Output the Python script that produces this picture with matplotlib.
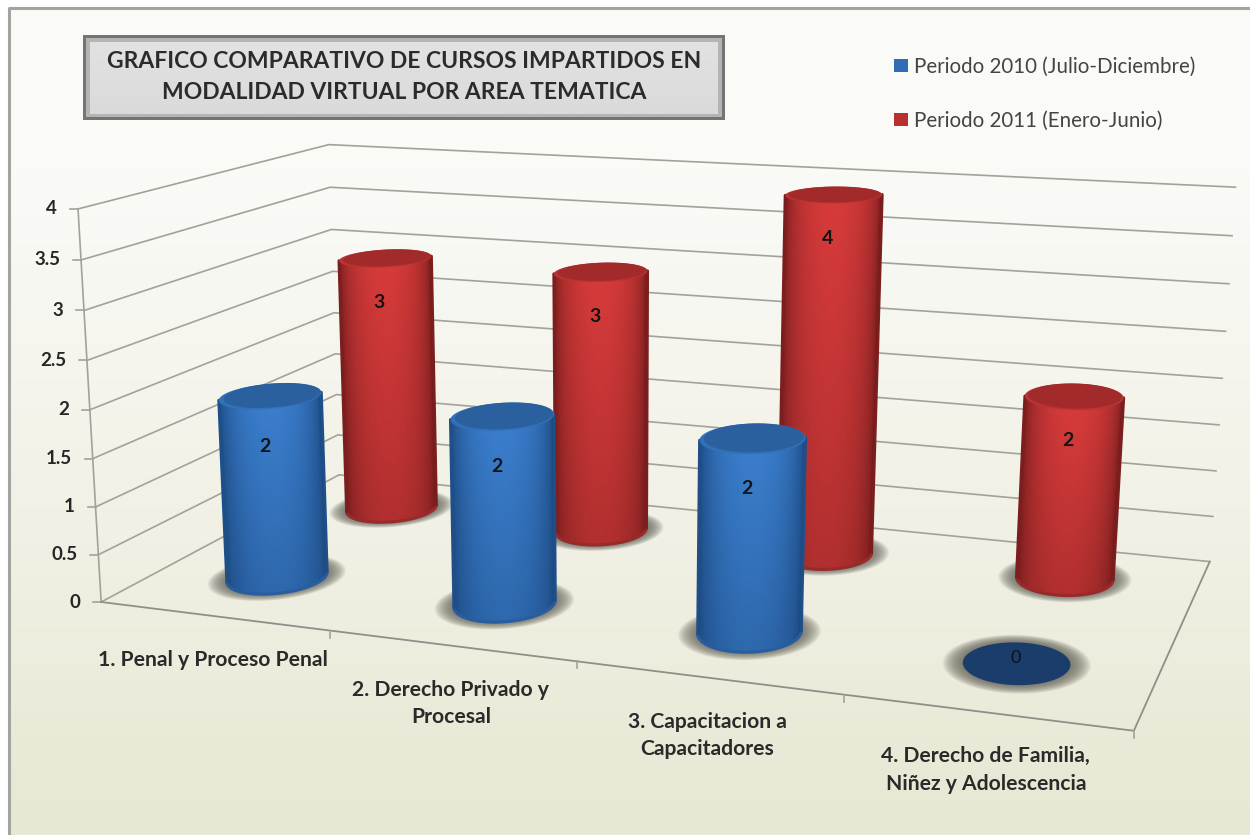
import numpy as np
import matplotlib
matplotlib.use('Agg')
import matplotlib.pyplot as plt
from matplotlib.colors import LinearSegmentedColormap
from matplotlib.patches import Rectangle, Polygon

plt.rcParams['font.family'] = ['Lato', 'DejaVu Sans']

# data
categories = ['1. Penal y Proceso Penal', '2. Derecho Privado y\nProcesal',
              '3. Capacitacion a\nCapacitadores', '4. Derecho de Familia,\nNiñez y Adolescencia']
values_2010 = [2, 2, 2, 0]
values_2011 = [3, 3, 4, 2]
series_names = ['Periodo 2010 (Julio-Diciembre)', 'Periodo 2011 (Enero-Junio)']
y_ticks = [0, 0.5, 1, 1.5, 2, 2.5, 3, 3.5, 4]
y_tick_labels = ['0', '0.5', '1', '1.5', '2', '2.5', '3', '3.5', '4']
title = 'GRAFICO COMPARATIVO DE CURSOS IMPARTIDOS EN\nMODALIDAD VIRTUAL POR AREA TEMATICA'

# box corners (category, depth, value) and where they land in the picture
box_corners = [(0, 0, 0), (4, 0, 0), (4, 1, 0), (0, 1, 0), (0, 0, 4), (0, 1, 4), (4, 1, 4)]
screen_corners = [(102, 599), (1134, 733), (1210, 559), (338, 478), (77, 210), (330, 143), (1235, 188)]

rows = []
for (u, v, w), (x, y) in zip(box_corners, screen_corners):
    rows.append([u, v, w, 1, 0, 0, 0, 0, -x * u, -x * v, -x * w, -x])
    rows.append([0, 0, 0, 0, u, v, w, 1, -y * u, -y * v, -y * w, -y])
P = np.linalg.svd(np.array(rows, dtype=float))[2][-1].reshape(3, 4)


def project(u, v, w):
    u, v, w = np.broadcast_arrays(np.asarray(u, float), np.asarray(v, float), np.asarray(w, float))
    q = P @ np.stack([u.ravel(), v.ravel(), w.ravel(), np.ones(u.size)])
    return (q[0] / q[2]).reshape(u.shape), (q[1] / q[2]).reshape(u.shape)


fig = plt.figure(figsize=(12.5, 8.35), dpi=100)
ax = fig.add_axes([0, 0, 1, 1])
ax.set_xlim(0, 1250)
ax.set_ylim(835, 0)
ax.axis('off')

# page background and top/left frame
bg = np.linspace(0, 1, 200)[:, None]
bg = np.clip((bg - 0.2) / 0.8, 0, 1) ** 1.1
c0, c1 = np.array([250, 250, 247]) / 255, np.array([232, 231, 211]) / 255
ax.imshow((c0 + (c1 - c0) * bg[:, :, None]), extent=[9, 1250, 835, 8], aspect='auto', zorder=0)
ax.plot([9, 9, 1250], [835, 8, 8], color='#a3a39f', lw=2.2, zorder=1)
ax.set_xlim(0, 1250)
ax.set_ylim(835, 0)

# walls and floor
line_c = '#a2a29a'
for w in y_ticks:
    xs, ys = project([0, 0, 4], [0, 1, 1], [w, w, w])
    ax.plot(xs, ys, color=line_c, lw=1.2, zorder=2)
    tx, ty = project(0, 0, w)
    ax.plot([tx - 8, tx], [ty, ty], color=line_c, lw=1.2, zorder=2)
for w, lab in zip(y_ticks, y_tick_labels):
    tx, ty = project(0, 0, w)
    ax.text(tx - 21, ty, lab, ha='right', va='center', fontsize=13.5, fontweight='bold', color='#262626')
xs, ys = project([0, 0], [0, 0], [0, 4])
ax.plot(xs, ys, color=line_c, lw=1.2, zorder=2)
xs, ys = project([0, 4, 4], [0, 0, 1], [0, 0, 0])
ax.plot(xs, ys, color='#8f8f88', lw=1.3, zorder=2)
for i in range(1, 5):
    tx, ty = project(i, 0, 0)
    ax.plot([tx, tx], [ty, ty + 7], color=line_c, lw=1.2, zorder=2)

# category labels under the front edge
for i, cat in enumerate(categories):
    tx, ty = project(i + 0.5, 0, 0)
    ax.text(tx, ty + 34, cat, ha='center', va='top', fontsize=15.2, fontweight='bold',
            color='#2a2a2a', linespacing=1.45)

blue_cmap = LinearSegmentedColormap.from_list('b', ['#1a4476', '#285e9f', '#3a7dcb'])
red_cmap = LinearSegmentedColormap.from_list('r', ['#6a1818', '#a02a2a', '#d63a3a'])
ru, rv = 0.19, 0.115
bar_scale = 0.97
t = np.linspace(0, 2 * np.pi, 361)


def rim(u, v, w, scale=1.0):
    return project(u + scale * ru * np.cos(t), v + scale * rv * np.sin(t), np.full_like(t, w))


def cylinder(u, v, val, cmap, top_c, rim_c, edge_c, base_c, drop, zorder):
    # soft shadow on the floor
    for s in np.linspace(1.38, 1.02, 20):
        xs, ys = rim(u, v, 0, s)
        ax.add_patch(Polygon(np.c_[xs, ys], closed=True, fc='#66665c', ec='none', alpha=0.07, zorder=zorder))
    if val == 0:
        xs, ys = rim(u, v, 0)
        ax.add_patch(Polygon(np.c_[xs, ys], closed=True, fc=top_c, ec='none', zorder=zorder + 0.1))
        cx, cy = project(u, v, 0)
        ax.text(cx - 1, cy - 5, str(val), ha='center', va='center', fontsize=13, color='#111111',
                zorder=zorder + 0.2)
        return
    h = val * bar_scale
    xs, _ = rim(u, v, h / 2)
    t_l, t_r = t[np.argmin(xs)], t[np.argmax(xs)]
    if t_r < t_l:
        t_r += 2 * np.pi
    arc = np.linspace(t_l, t_r, 70)
    heights = np.linspace(0, h, 24)
    A, H = np.meshgrid(arc, heights)
    X, Y = project(u + 0.985 * ru * np.cos(A), v + 0.985 * rv * np.sin(A), H)
    f = (A - t_l) / (t_r - t_l)
    shade = np.sin(np.pi * f) ** 0.95 * (0.66 + 0.34 * H / h)
    ax.pcolormesh(X, Y, shade, cmap=cmap, vmin=0, vmax=1, shading='gouraud', zorder=zorder + 0.1)
    # smooth outline, the gouraud mesh has no antialiasing
    X, Y = project(u + ru * np.cos(A), v + rv * np.sin(A), H)
    ax.plot(X[:, 0], Y[:, 0], color=edge_c, lw=2.2, zorder=zorder + 0.15, solid_capstyle='round')
    ax.plot(X[:, -1], Y[:, -1], color=edge_c, lw=2.2, zorder=zorder + 0.15, solid_capstyle='round')
    ax.plot(X[0, :], Y[0, :], color=base_c, lw=2.2, zorder=zorder + 0.12, solid_capstyle='round')
    xs, ys = rim(u, v, h)
    ax.add_patch(Polygon(np.c_[xs, ys], closed=True, fc=rim_c, ec='none', zorder=zorder + 0.2))
    xs, ys = rim(u, v + 0.008, h, 0.95)
    ax.add_patch(Polygon(np.c_[xs, ys], closed=True, fc=top_c, ec='none', zorder=zorder + 0.3))
    cx, cy = project(u, v, h)
    ax.text(cx - 6, cy + drop, str(val), ha='center', va='center', fontsize=14, fontweight='bold',
            color='#141414', zorder=zorder + 0.4)


for i, val in enumerate(values_2011):
    cylinder(i + 0.48, 0.79, val, red_cmap, '#a32a2a', '#bb3232', '#7a1e1e', '#982a2a', 44, 3 + i)
for i, val in enumerate(values_2010):
    u = i + 0.49 if val else i + 0.5
    cylinder(u, 0.26, val, blue_cmap, '#2b609f' if val else '#1b3d6b', '#3270b8', '#1f4f88', '#285e9f', 50, 8 + i)

# title box
ax.add_patch(Rectangle((83, 35), 642, 85, fc='#747474', ec='none', zorder=20))
ax.add_patch(Rectangle((86, 38), 636, 79, fc='#b4b4b4', ec='none', zorder=20))
box = np.linspace(0, 1, 50)[:, None]
b0, b1 = np.array([226, 226, 226]) / 255, np.array([218, 218, 218]) / 255
ax.imshow(b0 + (b1 - b0) * box[:, :, None], extent=[90, 718, 114, 42], aspect='auto', zorder=21)
ax.set_xlim(0, 1250)
ax.set_ylim(835, 0)
ax.text(404, 77, title, ha='center', va='center', fontsize=16.5, fontweight='bold', color='#2b2b2b',
        linespacing=1.55, zorder=22)

# legend
legend_y = [65, 119]
legend_c = ['#2f6db5', '#b93030']
for y, c, name in zip(legend_y, legend_c, series_names):
    ax.add_patch(Rectangle((894, y - 6), 14, 13, fc=c, ec='none', zorder=20))
    ax.text(914, y + 1.5, name, ha='left', va='center', fontsize=14.8, color='#444444', zorder=20)

fig.savefig('out.png', dpi=100)
